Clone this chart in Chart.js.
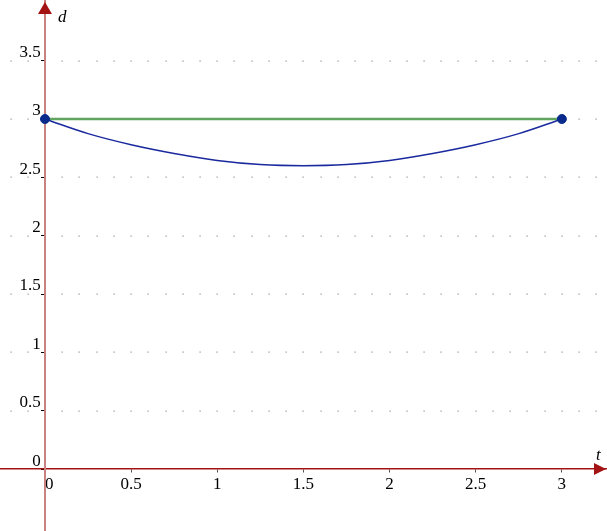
<!DOCTYPE html>
<html>
<head>
<meta charset="utf-8">
<script src="https://cdn.jsdelivr.net/npm/chart.js@4/dist/chart.umd.min.js"></script>
<style>
  html, body { margin: 0; padding: 0; background: #fff; }
  #wrap { width: 607px; height: 531px; }
</style>
</head>
<body>
<div id="wrap"><canvas id="distChart"></canvas></div>
<script>
// values
const tValues = [0, 0.25, 0.5, 0.75, 1, 1.25, 1.5, 1.75, 2, 2.25, 2.5, 2.75, 3];
const dCurve  = [3.00, 2.875, 2.78, 2.705, 2.645, 2.61, 2.60, 2.61, 2.645, 2.705, 2.78, 2.875, 3.00];
const chordT  = [0, 3];
const chordD  = [3, 3];
const xTicks  = [0, 0.5, 1, 1.5, 2, 2.5, 3];
const yTicks  = [0, 0.5, 1, 1.5, 2, 2.5, 3, 3.5];

const serif = '"Liberation Serif", "DejaVu Serif", serif';
const axisRed = '#a31313';

// dotted grid, arrowheads and axis names
const extras = {
    id: 'extras',
    beforeDatasetsDraw(chart) {
        const ctx = chart.ctx, xs = chart.scales.x, ys = chart.scales.y;
        ctx.save();
        ctx.fillStyle = '#909090';
        yTicks.forEach(function (d) {
            if (d === 0) return;
            const py = ys.getPixelForValue(d);
            for (let k = -2; k <= 32; k++) {
                if (k === 0) continue;
                const px = xs.getPixelForValue(k / 10);
                ctx.fillRect(Math.round(px) - 0.5, Math.round(py) - 0.5, 1.2, 1.2);
            }
        });
        ctx.restore();
    },
    afterDraw(chart) {
        const ctx = chart.ctx, xs = chart.scales.x, ys = chart.scales.y;
        const ox = xs.getPixelForValue(0), oy = ys.getPixelForValue(0);
        ctx.save();
        ctx.fillStyle = axisRed;
        ctx.beginPath();
        ctx.moveTo(ox, 2); ctx.lineTo(ox - 7, 14); ctx.lineTo(ox + 7, 14); ctx.closePath();
        ctx.fill();
        const right = chart.width - 1;
        ctx.beginPath();
        ctx.moveTo(right, oy); ctx.lineTo(right - 12, oy - 6); ctx.lineTo(right - 12, oy + 6); ctx.closePath();
        ctx.fill();
        ctx.fillStyle = '#000';
        ctx.font = 'italic 17px ' + serif;
        ctx.textBaseline = 'middle';
        ctx.textAlign = 'left';
        ctx.fillText('d', ox + 13, 18);
        ctx.fillText('t', right - 10, oy - 14);
        ctx.restore();
    }
};

new Chart(document.getElementById('distChart').getContext('2d'), {
    type: 'scatter',
    data: {
        datasets: [
            {
                label: 'chord',
                data: chordT.map((t, i) => ({ x: t, y: chordD[i] })),
                showLine: true,
                borderColor: '#5fa55f',
                borderWidth: 2.4,
                pointRadius: 0,
                order: 3
            },
            {
                label: 'curve',
                data: tValues.map((t, i) => ({ x: t, y: dCurve[i] })),
                showLine: true,
                borderColor: '#1a2a9e',
                borderWidth: 1.5,
                tension: 0.4,
                pointRadius: 0,
                order: 2
            },
            {
                label: 'ends',
                data: chordT.map((t, i) => ({ x: t, y: chordD[i] })),
                showLine: false,
                pointRadius: 4.5,
                pointBackgroundColor: '#0a2a8c',
                pointBorderColor: '#0a2a8c',
                order: 1
            }
        ]
    },
    options: {
        responsive: true,
        maintainAspectRatio: false,
        animation: false,
        layout: { padding: 0, autoPadding: false },
        plugins: { legend: { display: false }, tooltip: { enabled: false } },
        scales: {
            x: {
                type: 'linear',
                axis: 'x',
                position: { y: 0 },
                min: -0.261,
                max: 3.262,
                afterBuildTicks: function (scale) { scale.ticks = xTicks.map(v => ({ value: v })); },
                afterFit: function (scale) { scale.paddingLeft = 0; scale.paddingRight = 0; },
                grid: { drawOnChartArea: false, tickLength: 3, tickColor: '#555' },
                border: { color: axisRed, width: 1.5 },
                ticks: {
                    padding: 2,
                    maxRotation: 0,
                    autoSkip: false,
                    color: '#000',
                    font: { family: serif, size: 17 },
                    // nudge the origin label off the y axis
                    callback: v => (v === 0 ? '  0' : String(v))
                }
            },
            y: {
                type: 'linear',
                axis: 'y',
                position: { x: 0 },
                min: -0.531,
                max: 4.02,
                afterBuildTicks: function (scale) { scale.ticks = yTicks.map(v => ({ value: v })); },
                afterFit: function (scale) { scale.paddingTop = 0; scale.paddingBottom = 0; },
                grid: { drawOnChartArea: false, tickLength: 3, tickColor: '#000' },
                border: { color: '#c98282', width: 2 },
                ticks: {
                    padding: 4,
                    labelOffset: -8,
                    autoSkip: false,
                    color: '#000',
                    font: { family: serif, size: 17 },
                    // trailing space keeps the label clear of the axis
                    callback: v => String(v) + ' '
                }
            }
        }
    },
    plugins: [extras]
});
</script>
</body>
</html>
